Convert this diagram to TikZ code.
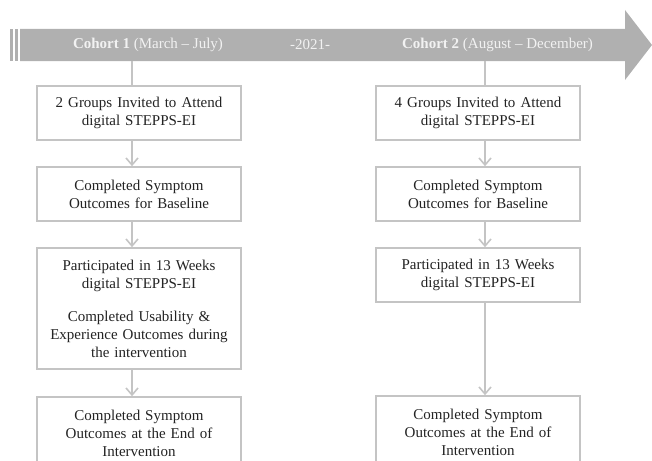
\documentclass[tikz,border=0pt]{standalone}
\usepackage{fontspec}
\setmainfont{Liberation Serif}
\usetikzlibrary{arrows.meta}
\definecolor{bandgray}{RGB}{176,176,176}
\definecolor{linegray}{RGB}{196,196,196}
\definecolor{textgray}{RGB}{35,35,35}
\begin{document}
\begin{tikzpicture}[x=1pt,y=-1pt,
    box/.style={draw=linegray,line width=1.6pt,fill=white,text=textgray,
      minimum width=204pt,text width=190pt,align=center,minimum height=54pt,
      inner sep=2pt,font=\fontsize{15}{18}\selectfont},
    band/.style={text=white!95!black,font=\fontsize{15}{18}\selectfont},
    link/.style={linegray,line width=1.6pt},
    flow/.style={linegray,line width=1.6pt,-{Straight Barb[length=7pt,width=12pt]}}]
      \useasboundingbox (0,0) rectangle (652,460);
      \clip (0,0) rectangle (652,460);
      % timeline
      \fill[bandgray] (20,29) -- (625,29) -- (625,10) -- (652,45) -- (625,80)
        -- (625,61) -- (20,61) -- cycle;
      \fill[bandgray] (9.5,29) rectangle (12.5,61);
      \fill[bandgray] (14.5,29) rectangle (17.5,61);
      \draw
        (148,45) node[band] (coh1){\textbf{Cohort 1} (March – July)}
        (310,45) node[band] (year){-2021-}
        (497.5,45) node[band] (coh2){\textbf{Cohort 2} (August – December)};
      \coordinate (t1) at (132,61);
      \coordinate (t2) at (485,61);
      % cohort 1
      \draw
        (139,113) node[box] (a1){2 Groups Invited to Attend\\digital STEPPS-EI}
        (139,194) node[box] (a2){Completed Symptom\\Outcomes for Baseline}
        (139,308.5) node[box,minimum height=121pt] (a3){Participated in 13 Weeks\\digital STEPPS-EI\\[15pt]Completed Usability \&\\Experience Outcomes during\\the intervention}
        (139,433) node[box,minimum height=72pt] (a4){Completed Symptom\\Outcomes at the End of\\Intervention};
      % cohort 2
      \draw
        (478,113) node[box] (b1){4 Groups Invited to Attend\\digital STEPPS-EI}
        (478,194) node[box] (b2){Completed Symptom\\Outcomes for Baseline}
        (478,275) node[box] (b3){Participated in 13 Weeks\\digital STEPPS-EI}
        (478,432) node[box,minimum height=72pt] (b4){Completed Symptom\\Outcomes at the End of\\Intervention};
      \begin{scope}
        \draw[link] (t1) -- (a1.north -| t1);
        \draw[flow] (a1.south -| t1) -- (a2.north -| t1);
        \draw[flow] (a2.south -| t1) -- (a3.north -| t1);
        \draw[flow] (a3.south -| t1) -- (a4.north -| t1);
        \draw[link] (t2) -- (b1.north -| t2);
        \draw[flow] (b1.south -| t2) -- (b2.north -| t2);
        \draw[flow] (b2.south -| t2) -- (b3.north -| t2);
        \draw[flow] (b3.south -| t2) -- (b4.north -| t2);
      \end{scope}
    \end{tikzpicture}
\end{document}
